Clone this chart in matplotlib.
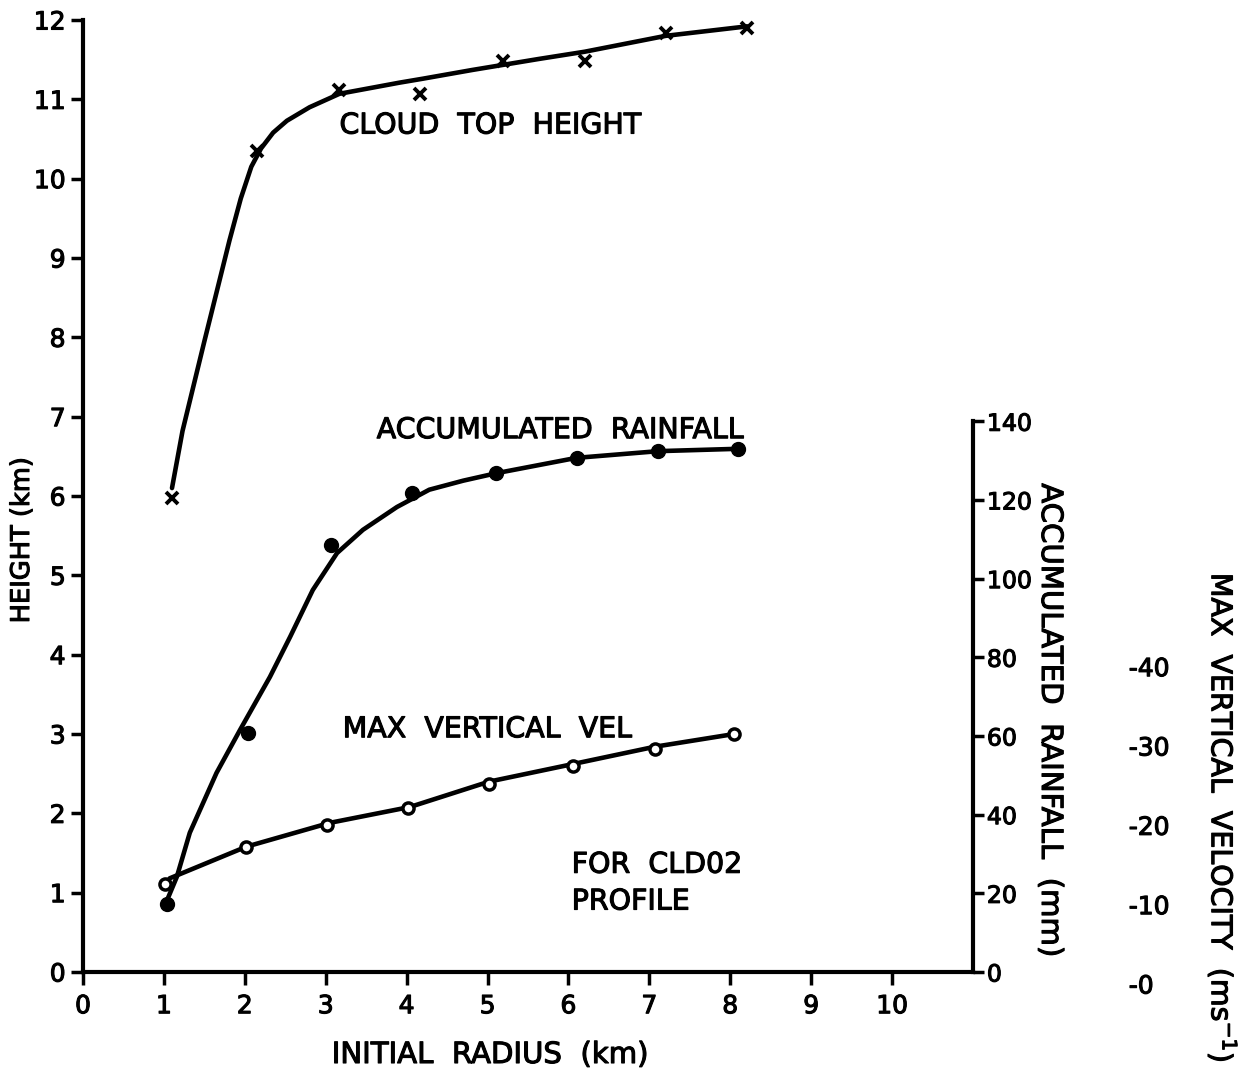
import numpy as np
import matplotlib
matplotlib.use("Agg")
import matplotlib.pyplot as plt
import matplotlib.patheffects as pe
from matplotlib.transforms import ScaledTranslation

plt.rcParams['font.family'] = ['DejaVu Sans']

# measured points (initial radius km)
cloud_r = [1.10, 2.15, 3.17, 4.17, 5.19, 6.21, 7.20, 8.21]
cloud_top = [5.98, 10.35, 11.12, 11.07, 11.48, 11.48, 11.84, 11.90]   # km

rain_r = [1.04, 2.04, 3.07, 4.07, 5.11, 6.10, 7.11, 8.10]
rain_mm = [17.3, 60.8, 108.5, 121.8, 126.8, 130.7, 132.4, 132.9]      # mm

vel_r = [1.01, 2.02, 3.01, 4.02, 5.02, 6.05, 7.07, 8.05]
vel_ms = [11.1, 15.8, 18.5, 20.7, 23.7, 26.0, 28.1, 30.0]             # m/s (axis shows them negative)

# hand drawn smooth curves
cloud_curve_r = [1.10, 1.23, 1.50, 1.81, 1.95, 2.08, 2.20, 2.35, 2.52, 2.80, 3.17, 3.91, 4.20, 4.81, 5.64, 6.20, 7.20, 8.21]
cloud_curve_h = [6.10, 6.82, 7.95, 9.22, 9.75, 10.15, 10.38, 10.58, 10.73, 10.90, 11.07, 11.21, 11.26, 11.37, 11.51, 11.60, 11.80, 11.92]

rain_curve_r = [1.04, 1.16, 1.32, 1.65, 1.94, 2.31, 2.56, 2.84, 3.14, 3.46, 3.88, 4.28, 4.70, 5.11, 6.10, 7.11, 8.10]
rain_curve_mm = [18.3, 24.2, 35.4, 50.6, 61.5, 75.0, 85.2, 97.1, 106.5, 112.4, 118.2, 122.6, 124.9, 126.8, 130.7, 132.4, 133.0]

vel_curve_r = [1.07, 2.02, 3.05, 4.04, 5.02, 6.05, 7.07, 8.05]
vel_curve_ms = [11.8, 15.8, 18.8, 20.8, 24.0, 26.2, 28.4, 30.0]

x_ticks = list(range(0, 11))
h_ticks = list(range(0, 13))
rain_ticks = [0, 20, 40, 60, 80, 100, 120, 140]
vel_ticks = [0, 10, 20, 30, 40]
vel_labels = ["-0", "-10", "-20", "-30", "-40"]

W, H = 1240, 1075
fig = plt.figure(figsize=(W / 100, H / 100), dpi=100)
ax = fig.add_axes([83 / W, 1 - 972 / H, (973 - 83) / W, (972 - 20) / H])
ax_rain = ax.twinx()
ax_vel = ax.twinx()

lw = 3.3
# cloud top height
ax.plot(cloud_curve_r, cloud_curve_h, color='black', lw=lw, solid_capstyle='round')
ax.plot(cloud_r, cloud_top, ls='none', marker='x', ms=9, mew=2.8, color='black')
ax.set_xticks(x_ticks)
ax.set_yticks(h_ticks)
ax.set_xlim(0, 11)
ax.set_ylim(0, 12)
for s in ['top', 'right']:
    ax.spines[s].set_visible(False)
for s in ['left', 'bottom']:
    ax.spines[s].set_linewidth(3)
ax.tick_params(axis='both', width=2.5, length=9, labelsize=18)
ax.tick_params(axis='x', pad=7)

# rainfall
ax_rain.plot(rain_curve_r, rain_curve_mm, color='black', lw=lw, solid_capstyle='round')
ax_rain.plot(rain_r, rain_mm, ls='none', marker='o', ms=10, color='black')
ax_rain.set_yticks(rain_ticks)
ax_rain.set_ylim(0, 242)
for s in ['top', 'left', 'bottom']:
    ax_rain.spines[s].set_visible(False)
ax_rain.spines['right'].set_bounds(0, 140)
ax_rain.spines['right'].set_linewidth(3)
ax_rain.tick_params(axis='y', width=2.5, length=8, labelsize=17, pad=2)

# vertical velocity
ax_vel.plot(vel_curve_r, vel_curve_ms, color='black', lw=lw, solid_capstyle='round')
ax_vel.plot(vel_r, vel_ms, ls='none', marker='o', ms=8, mfc='white', mec='black', mew=2.5)
ax_vel.set_yticks(vel_ticks)
ax_vel.set_yticklabels(vel_labels)
ax_vel.set_ylim(0, 120)
for s in ['top', 'left', 'bottom', 'right']:
    ax_vel.spines[s].set_visible(False)
ax_vel.spines['right'].set_position(('axes', 1.175))
ax_vel.tick_params(axis='y', length=0, labelsize=18, pad=0)
shift = ScaledTranslation(0, -12 / 100, fig.dpi_scale_trans)
for lab in ax_vel.get_yticklabels():
    lab.set_transform(lab.get_transform() + shift)

# curve labels
ax.text(3.17, 10.67, "CLOUD  TOP  HEIGHT", fontsize=20.5, ha='left', va='center')
ax.text(3.63, 6.83, "ACCUMULATED  RAINFALL", fontsize=20.5, ha='left', va='center')
ax.text(3.21, 3.06, "MAX  VERTICAL  VEL", fontsize=20.5, ha='left', va='center')
ax.text(6.04, 1.12, "FOR  CLD02\nPROFILE", fontsize=20.5, ha='left', va='center', linespacing=1.4)

# axis titles
fig.text(22 / W, 1 - 540 / H, "HEIGHT (km)", rotation=90, fontsize=18.5, ha='center', va='center')
fig.text(490 / W, 1 - 1055 / H, "INITIAL  RADIUS  (km)", fontsize=21, ha='center', va='center')
fig.text(1050 / W, 1 - 720 / H, "ACCUMULATED  RAINFALL  (mm)", rotation=270, fontsize=21, ha='center', va='center')
fig.text(1222 / W, 1 - 818 / H, "MAX  VERTICAL  VELOCITY  (ms$^{-1}$)", rotation=270, fontsize=20.5, ha='center', va='center')

# heavier strokes, like the lettering of the original
for t in fig.findobj(matplotlib.text.Text):
    t.set_path_effects([pe.withStroke(linewidth=0.8, foreground='black')])

fig.savefig("out.png", dpi=100)
